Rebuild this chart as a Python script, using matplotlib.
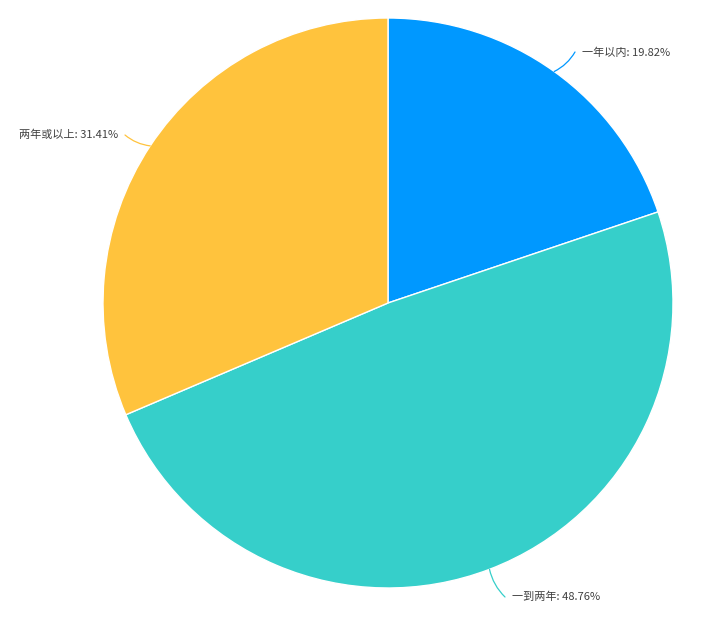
import matplotlib.pyplot as plt
import numpy as np

plt.rcParams['font.family'] = ['Noto Sans CJK SC', 'DejaVu Sans']

labels = ['一年以内', '一到两年', '两年或以上']
shares = [19.82, 48.76, 31.41]
colors = ['#0098FF', '#36CFCA', '#FFC33D']

# label text anchors (pixel coords, y up) and alignment
text_pos = [(582, 569), (512, 25), (118, 487)]
text_ha = ['left', 'left', 'right']
line_end = [(575, 570), (505, 25), (125, 487)]
rads = [-0.15, -0.15, 0.15]

W, H = 720, 622
fig = plt.figure(figsize=(W / 100, H / 100), dpi=100)
ax = fig.add_axes([0, 0, 1, 1])

cx, cy, r = 388, H - 303, 285
wedges, _ = ax.pie(shares, colors=colors, startangle=90, counterclock=False,
                   center=(cx, cy), radius=r, frame=True,
                   wedgeprops=dict(edgecolor='white', linewidth=1))
ax.set_xlim(0, W)
ax.set_ylim(0, H)
ax.axis('off')

for w, lab, v, tp, ha, le, rad in zip(wedges, labels, shares, text_pos, text_ha, line_end, rads):
    ang = np.deg2rad((w.theta1 + w.theta2) / 2)
    ex, ey = cx + r * np.cos(ang), cy + r * np.sin(ang)
    ax.annotate('', xy=(ex, ey), xytext=le,
                arrowprops=dict(arrowstyle='-', color=w.get_facecolor(), lw=0.9,
                                shrinkA=0, shrinkB=0,
                                connectionstyle=f'arc3,rad={rad}'))
    ax.text(tp[0], tp[1], f'{lab}: {v:.2f}%', ha=ha, va='center',
            fontsize=8, color='#404040')

fig.savefig('out.png', dpi=100)
